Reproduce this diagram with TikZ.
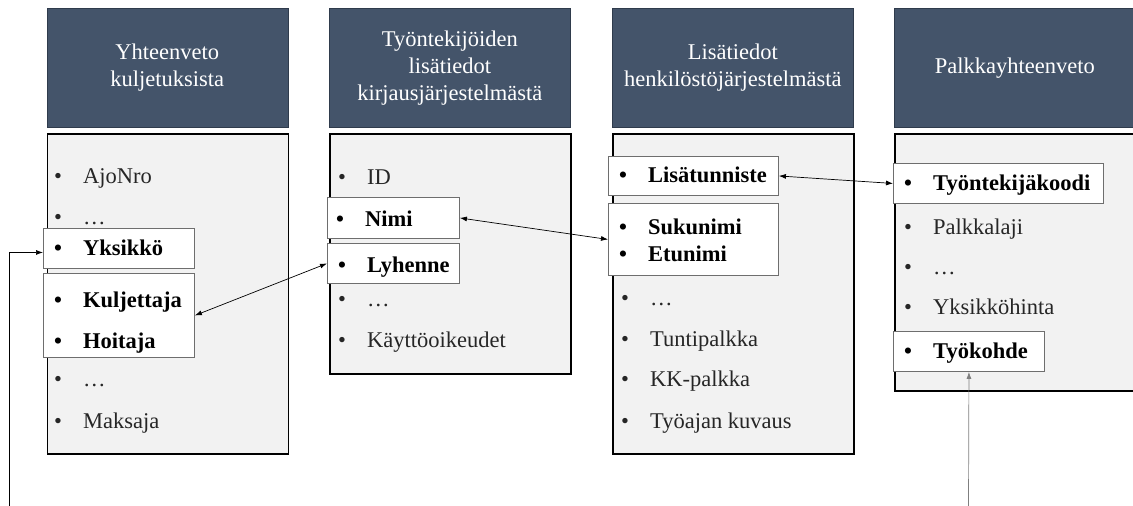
\documentclass[tikz,border=0pt]{standalone}
\usepackage{fontspec}
\setmainfont{Liberation Serif}
\usetikzlibrary{arrows.meta}

\definecolor{hdrfill}{HTML}{44546A}
\definecolor{hdrline}{HTML}{2F3B4C}
\definecolor{panelfill}{HTML}{F2F2F2}
\definecolor{keyline}{HTML}{6E6E6E}
\definecolor{plaintext}{HTML}{262626}
\definecolor{feedline}{HTML}{7F7F7F}

\tikzset{
  hdr/.style={draw=hdrline, line width=0.6pt, fill=hdrfill, text=white,
    anchor=north west, minimum width=241pt, minimum height=119pt,
    align=center, inner sep=0pt, font=\fontsize{22.5}{27}\selectfont},
  panel/.style={draw=black, line width=1.5pt, fill=panelfill,
    anchor=north west, minimum width=241pt, inner sep=0pt},
  keybox/.style={draw=keyline, line width=0.9pt, fill=white,
    anchor=north west, inner sep=0pt},
  entry/.style={anchor=base west, inner sep=0pt, text=plaintext,
    font=\fontsize{22.5}{27}\selectfont},
  keyentry/.style={anchor=base west, inner sep=0pt, text=black,
    font=\fontsize{22.5}{27}\selectfont\bfseries},
  link/.style={line width=0.7pt,
    {Latex[length=7pt,width=5pt]}-{Latex[length=7pt,width=5pt]}},
  feed/.style={line width=0.7pt, -{Latex[length=7pt,width=5pt]}},
}
\newcommand\bul[1]{\makebox[29pt][l]{•}#1}

\begin{document}
\begin{tikzpicture}[x=1pt,y=-1pt]
\useasboundingbox (0,0) rectangle (1133,506);

% table headers
\node[hdr] (h1) at (46.5,8) {Yhteenveto\\kuljetuksista};
\node[hdr] (h2) at (329,8) {Työntekijöiden\\lisätiedot\\kirjausjärjestelmästä};
\node[hdr] (h3) at (612,8) {Lisätiedot\\henkilöstöjärjestelmästä};
\node[hdr] (h4) at (894,8) {Palkkayhteenveto};

% field panels
\node[panel, minimum height=320pt] (b1) at (46.5,133) {};
\node[panel, minimum height=240pt] (b2) at (329,133) {};
\node[panel, minimum height=320pt] (b3) at (612,133) {};
\node[panel, minimum height=257pt] (b4) at (894,133) {};

% key field boxes
\node[keybox, minimum width=151pt, minimum height=40pt] (yk) at (43,228) {};
\node[keybox, minimum width=151pt, minimum height=84pt] (kh) at (43,273) {};
\node[keybox, minimum width=132pt, minimum height=41pt] (nm) at (327,197) {};
\node[keybox, minimum width=132pt, minimum height=40pt] (ly) at (327,243) {};
\node[keybox, minimum width=170pt, minimum height=39pt] (lt) at (608,156) {};
\node[keybox, minimum width=170pt, minimum height=72pt] (se) at (608,203) {};
\node[keybox, minimum width=210pt, minimum height=40pt] (tk) at (893,163) {};
\node[keybox, minimum width=151pt, minimum height=40pt] (tw) at (893,331) {};

% fields: Yhteenveto kuljetuksista
\node[entry]    (a1) at (54,183.5) {\bul{AjoNro}};
\node[entry]    (a2) at (54,224.5) {\bul{…}};
\node[keyentry] (a3) at (54,255.5) {\bul{Yksikkö}};
\node[keyentry] (a4) at (54,307.5) {\bul{Kuljettaja}};
\node[keyentry] (a5) at (54,348.5) {\bul{Hoitaja}};
\node[entry]    (a6) at (54,386.5) {\bul{…}};
\node[entry]    (a7) at (54,428.5) {\bul{Maksaja}};

% fields: kirjausjärjestelmä
\node[entry]    (c1) at (338,184.5) {\bul{ID}};
\node[keyentry] (c2) at (336,226.5) {\bul{Nimi}};
\node[keyentry] (c3) at (338,272.5) {\bul{Lyhenne}};
\node[entry]    (c4) at (338,306.5) {\bul{…}};
\node[entry]    (c5) at (338,347.5) {\bul{Käyttöoikeudet}};

% fields: henkilöstöjärjestelmä
\node[keyentry] (d1) at (619,182.5) {\bul{Lisätunniste}};
\node[keyentry] (d2) at (619,234.5) {\bul{Sukunimi}};
\node[keyentry] (d3) at (619,261.5) {\bul{Etunimi}};
\node[entry]    (d4) at (621,305.5) {\bul{…}};
\node[entry]    (d5) at (621,346.5) {\bul{Tuntipalkka}};
\node[entry]    (d6) at (621,386.5) {\bul{KK-palkka}};
\node[entry]    (d7) at (621,428.5) {\bul{Työajan kuvaus}};

% fields: Palkkayhteenveto
\node[keyentry] (p1) at (904,190.5) {\bul{Työntekijäkoodi}};
\node[entry]    (p2) at (904,234.5) {\bul{Palkkalaji}};
\node[entry]    (p3) at (904,274.5) {\bul{…}};
\node[entry]    (p4) at (904,314.5) {\bul{Yksikköhinta}};
\node[keyentry] (p5) at (904,358.5) {\bul{Työkohde}};

% links between key fields
\draw[link] (kh.east) -- (ly.west);
\draw[link] (nm.east) -- (se.west);
\draw[link] (lt.east) -- (tk.west);

% incoming references
\coordinate (inA) at (9,506);
\coordinate (inB) at (968.5,506);
\draw[feed] (inA) |- ([yshift=-4pt]yk.west);
\draw[feed, draw=feedline] (inB) -- (tw.south);
\end{tikzpicture}
\end{document}
